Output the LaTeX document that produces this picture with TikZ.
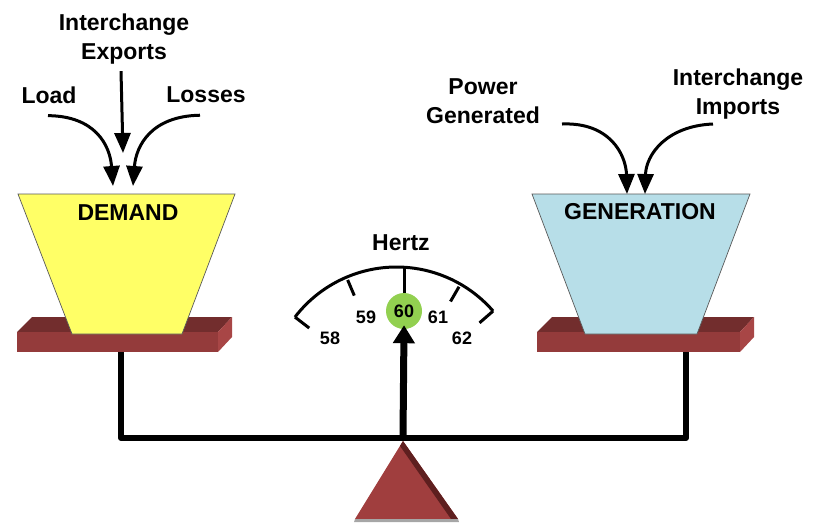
\documentclass[tikz,border=0pt]{standalone}
\usepackage{fontspec}
\setmainfont{Liberation Sans}
\usetikzlibrary{arrows.meta,calc}

\definecolor{demandfill}{HTML}{FFFF66}
\definecolor{genfill}{HTML}{B7DEE8}
\definecolor{platefront}{HTML}{943B3B}
\definecolor{platetop}{HTML}{722D2D}
\definecolor{plateside}{HTML}{A84646}
\definecolor{fulcrum}{HTML}{A03E3E}
\definecolor{fulcrumdark}{HTML}{5E1F1F}
\definecolor{hzgreen}{HTML}{92D050}

% plate under a bucket: #1 = left x of front face, #2 = right x of front face
\newcommand{\drawplate}[2]{%
  \fill[platetop] (#1,332) -- (#1+15,317) -- (#2+14,317) -- (#2,332) -- cycle;
  \fill[plateside] (#2,332) -- (#2+14,317) -- (#2+14,337) -- (#2,352) -- cycle;
  \fill[platefront] (#1,332) rectangle (#2,352);
}

\begin{document}
\begin{tikzpicture}[x=1pt,y=-1pt,
  lbl/.style={font=\fontsize{23}{28.5}\selectfont\bfseries, align=center, inner sep=0pt},
  numlbl/.style={font=\fontsize{18}{20}\selectfont\bfseries, inner sep=0pt},
  flow/.style={line width=3pt, -{Triangle[length=20pt,width=16pt]}},
  bucket/.style={draw=black!65, line width=0.7pt, line join=miter},
  gaugeline/.style={line width=3pt, line cap=butt},
  beam/.style={line width=6pt, line join=round},
]
\useasboundingbox (0,0) rectangle (817,523);

% ---------- plates under the two buckets ----------
\drawplate{17}{218}
\drawplate{537}{740}

% ---------- buckets ----------
\draw[bucket, fill=demandfill] (18,194) -- (235,194) -- (182,334) -- (72,334) -- cycle;
\draw[bucket, fill=genfill] (532,194) -- (750,194) -- (697,334) -- (585,334) -- cycle;
\node[lbl] (demand) at (128,213) {DEMAND};
\node[lbl] (generation) at (640,212) {GENERATION};

% inflow points on the bucket rims
\coordinate (dLoad) at (113,186);
\coordinate (dExp) at (123,153);
\coordinate (dLoss) at (133,186);
\coordinate (gPow) at (627,194);
\coordinate (gImp) at (645,194);

% ---------- demand-side labels and arrows ----------
\node[lbl] (exports) at (124,39) {Interchange\\Exports};
\node[lbl] (load) at (49,95) {Load};
\node[lbl] (losses) at (206,95) {Losses};

\draw[flow] ($(exports.south)+(-3,7)$) -- (dExp);
\draw[flow] ($(load.south)+(-1,12)$) .. controls (95,116) and (110,145) .. (dLoad);
\draw[flow] ($(losses.south)+(-6,12)$) .. controls (152,116) and (136,145) .. (dLoss);

% ---------- generation-side labels and arrows ----------
\node[lbl] (power) at (483,101) {Power\\Generated};
\node[lbl] (imports) at (738,94) {Interchange\\Imports};

\draw[flow] (562,124) .. controls (610,122) and (626,155) .. (gPow);
\draw[flow] (713,124) .. controls (666,126) and (646,155) .. (gImp);

% ---------- posts and beam ----------
\coordinate (postL) at (121,352);
\coordinate (postR) at (686,352);
\draw[beam] (postL) -- (121,438) -- (686,438) -- (postR);

% ---------- fulcrum ----------
\coordinate (apex) at (403,441);
\fill[fulcrum] (apex) -- (458,519) -- (355,519) -- cycle;
\fill[fulcrumdark] (apex) -- (458,519) -- (451,519) -- (400,446) -- cycle;
\fill[black!35] (355,519) -- (458,519) -- (459,522) -- (354,522) -- cycle;

% ---------- frequency gauge ----------
\coordinate (gc) at (396.5,395);
\node[lbl] (hertz) at (401,243) {Hertz};
\draw[gaugeline] ($(gc)+(142.5:128pt)$) arc[start angle=142.5, end angle=41, radius=128pt];
\foreach \a in {142.5,41}
  \draw[gaugeline] ($(gc)+(\a:128pt)$) -- ($(gc)+(\a:110pt)$);
\foreach \a in {113,60}
  \draw[gaugeline] ($(gc)+(\a:125pt)$) -- ($(gc)+(\a:108pt)$);

\node[circle, fill=hzgreen, minimum size=36pt, inner sep=0pt,
      font=\fontsize{18}{20}\selectfont\bfseries] (hz60) at (404,311) {60};
\draw[gaugeline] (404,267) -- (hz60.north);

\node[numlbl] (hz58) at (330,338) {58};
\node[numlbl] (hz59) at (366,317) {59};
\node[numlbl] (hz61) at (438,317) {61};
\node[numlbl] (hz62) at (462,338) {62};

% needle
\draw[line width=7pt, -{Triangle[length=18pt,width=21pt]}, shorten >=-4pt]
  (403,436) -- (hz60.south);
\end{tikzpicture}
\end{document}
